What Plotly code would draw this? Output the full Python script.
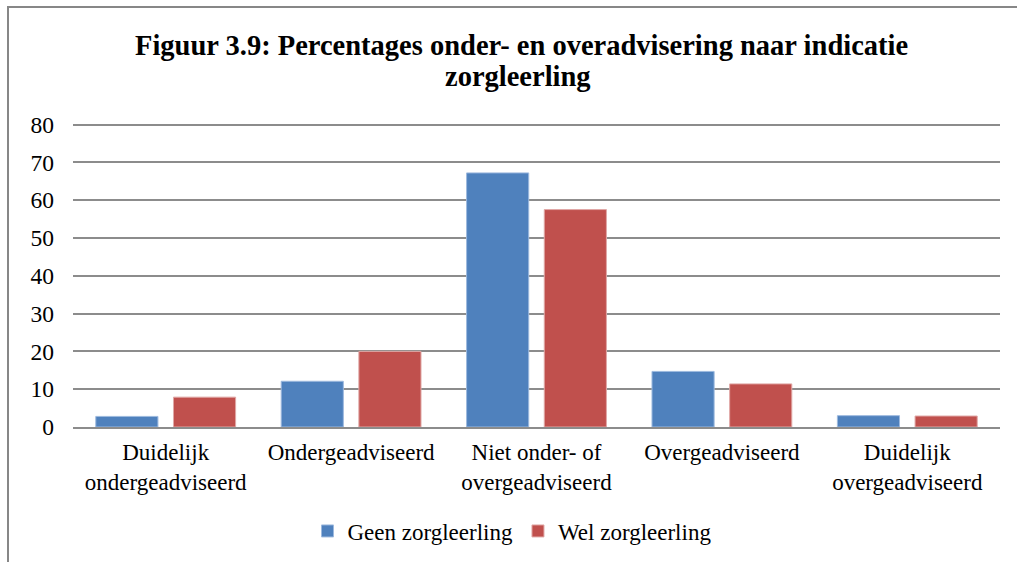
import plotly.graph_objects as go

categories = ["Duidelijk<br>ondergeadviseerd", "Ondergeadviseerd", "Niet onder- of<br>overgeadviseerd",
              "Overgeadviseerd", "Duidelijk<br>overgeadviseerd"]
geen = [2.8, 12.1, 67.2, 14.7, 3.0]
wel = [7.9, 20.0, 57.5, 11.4, 2.9]
yticks = [0, 10, 20, 30, 40, 50, 60, 70, 80]
series_names = ["Geen zorgleerling", "Wel zorgleerling"]
title_lines = ["Figuur 3.9: Percentages onder- en overadvisering naar indicatie", "zorgleerling"]

W, H = 1017, 562
L, R, T, B = 73, 17, 123, 135

font = "Liberation Serif"

fig = go.Figure()
fig.add_bar(x=categories, y=geen, name=series_names[0],
            marker=dict(color="#4F81BD", line=dict(color="#9DB9DE", width=1)))
fig.add_bar(x=categories, y=wel, name=series_names[1],
            marker=dict(color="#C0504D", line=dict(color="#E0A8A6", width=1)))

pw = W - L - R
ph = H - T - B
def px2x(px):
    return (px - L) / pw
def py2y(py):
    return (H - B - py) / ph

fig.update_layout(
    width=W, height=H,
    margin=dict(l=L, r=R, t=T, b=B, autoexpand=False),
    paper_bgcolor="white", plot_bgcolor="white",
    font=dict(family=font, color="black", size=22),
    barmode="group", bargap=0.162, bargroupgap=0.2,
    legend=dict(orientation="h", x=px2x(512), xanchor="center", y=py2y(531), yanchor="middle",
                font=dict(family=font, size=23, color="black"), itemwidth=30, traceorder="normal"),
    showlegend=True,
    annotations=[
        dict(text="<b>" + title_lines[0] + "</b>", xref="paper", yref="paper", x=px2x(521), y=py2y(45),
             xanchor="center", yanchor="middle", showarrow=False,
             font=dict(family=font, size=28.5, color="black")),
        dict(text="<b>" + title_lines[1] + "</b>", xref="paper", yref="paper", x=px2x(518), y=py2y(77),
             xanchor="center", yanchor="middle", showarrow=False,
             font=dict(family=font, size=28.5, color="black")),
    ],
    shapes=[
        dict(type="line", xref="paper", yref="paper", x0=px2x(8), x1=px2x(8), y0=py2y(6.5), y1=py2y(575),
             line=dict(color="#878787", width=2), layer="above"),
        dict(type="line", xref="paper", yref="paper", x0=px2x(7), x1=px2x(1030), y0=py2y(7), y1=py2y(7),
             line=dict(color="#878787", width=2), layer="above"),
    ],
)
fig.update_yaxes(range=[0, 80.4], tickvals=yticks, showgrid=True, gridcolor="#8C8C8C", gridwidth=1.5,
                 zeroline=False, showline=False, ticks="",
                 tickfont=dict(size=23.5, family=font, color="black"), ticklabelstandoff=18)
fig.update_xaxes(showline=True, linecolor="#8C8C8C", linewidth=2, ticks="",
                 tickfont=dict(size=23, family=font, color="black"), tickangle=0, ticklabelstandoff=3)

fig.write_html("out.html", config={"displayModeBar": False},
               post_script="document.body.style.margin='0';")
